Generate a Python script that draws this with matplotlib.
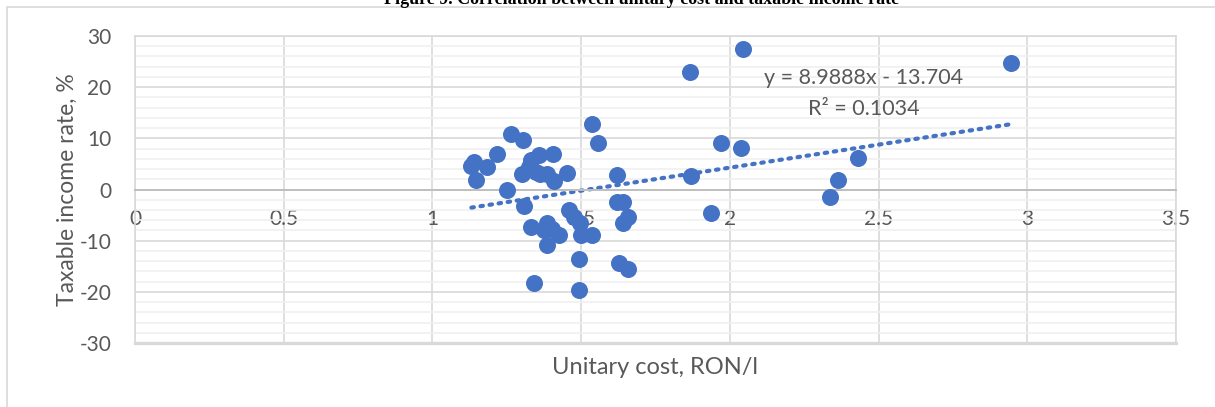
import numpy as np
import matplotlib.pyplot as plt
from matplotlib.patches import Rectangle

# unitary cost (RON/l) vs taxable income rate (%)
cost = [1.131, 1.141, 1.148, 1.182, 1.218, 1.251, 1.265, 1.305, 1.307, 1.330,
        1.358, 1.300, 1.324, 1.347, 1.362, 1.384, 1.406, 1.408, 1.451, 1.535,
        1.556, 1.620, 1.459, 1.476, 1.496, 1.332, 1.386, 1.375, 1.403, 1.425,
        1.384, 1.498, 1.535, 1.494, 1.341, 1.494, 1.628, 1.658, 1.622, 1.640,
        1.658, 1.642, 1.866, 2.045, 1.871, 1.970, 2.037, 1.938, 2.338, 2.363,
        2.430, 2.946]
rate = [4.6, 5.3, 1.8, 4.4, 7.0, 0.0, 10.8, 9.7, -3.3, 5.7,
        6.8, 3.1, 4.3, 3.4, 3.1, 3.1, 6.9, 1.7, 3.2, 12.8,
        9.1, 2.8, -4.0, -5.4, -6.5, -7.4, -6.5, -7.9, -7.7, -8.9,
        -10.8, -8.9, -8.9, -13.5, -18.2, -19.7, -14.3, -15.6, -2.4, -2.4,
        -5.3, -6.6, 23.0, 27.4, 2.7, 9.1, 8.2, -4.6, -1.4, 1.9,
        6.2, 24.7]

# linear trend as printed on the chart
slope = 8.9888
intercept = -13.704
r2 = 0.1034

xticks = [0, 0.5, 1, 1.5, 2, 2.5, 3, 3.5]
xticklabels = ['0', '0.5', '1', '1.5', '2', '2.5', '3', '3.5']
yticks = [-30, -20, -10, 0, 10, 20, 30]

blue = '#4472C4'
txt = '#595959'
plt.rcParams['font.family'] = ['Lato', 'DejaVu Sans']
plt.rcParams['axes.unicode_minus'] = False

fig = plt.figure(figsize=(12.15, 4.07), dpi=100)
ax = fig.add_axes([135/1215, 1-343/407, 1041/1215, 307/407])

# chart frame and (cut off) figure caption
fig.patches.append(Rectangle((7/1215, -0.2), 1.2, 1.2-7/407,
                             transform=fig.transFigure, fill=False,
                             edgecolor='#D9D9D9', lw=1.2, zorder=0))
fig.text(642/1215, 1-4/407, 'Figure 9. Correlation between unitary cost and taxable income rate',
         ha='center', va='baseline', fontsize=13, fontweight='bold',
         family='Liberation Serif', color='black')

ax.set_xlim(0, 3.5)
ax.set_ylim(-30, 30)
ax.set_yticks(np.arange(-30, 31, 2), minor=True)
ax.set_xticks(xticks)
ax.set_xticklabels(xticklabels)
ax.set_yticks(yticks)
ax.grid(True, which='major', color='#D9D9D9', lw=1.2, zorder=0)
ax.grid(True, which='minor', axis='y', color='#F0F0F0', lw=1.2, zorder=0)
ax.set_axisbelow(True)

for s in ['left', 'top', 'right']:
    ax.spines[s].set_color('#D9D9D9')
    ax.spines[s].set_linewidth(1.2)
ax.spines['bottom'].set_position(('data', 0))
ax.spines['bottom'].set_color('#BFBFBF')
ax.spines['bottom'].set_linewidth(1.4)
ax.axhline(-30, color='#D9D9D9', lw=2.4, clip_on=False, zorder=0)

ax.tick_params(which='both', length=0)
ax.tick_params(axis='x', pad=14, labelsize=15, labelcolor=txt)
ax.tick_params(axis='y', pad=17, labelsize=15, labelcolor=txt)

ax.scatter(cost, rate, s=150, color=blue, zorder=3, linewidths=0)

xt = np.array([min(cost), max(cost)])
ax.plot(xt, slope*xt + intercept, linestyle=(0, (0.6, 1.6)), color=blue,
        lw=3, dash_capstyle='round', zorder=2)
ax.text(2.45, 18.8, 'y = %.4fx - %.3f\nR² = %.4f' % (slope, -intercept, r2),
        ha='center', va='center', fontsize=15.5, color=txt, linespacing=1.7)

ax.set_xlabel('Unitary cost, RON/l', fontsize=17, color=txt)
ax.xaxis.set_label_coords(0.5, -0.045)
ax.set_ylabel('Taxable income rate, %', fontsize=16.5, color=txt)
ax.yaxis.set_label_coords(-0.055, 0.5)

fig.savefig('out.png', dpi=100)
